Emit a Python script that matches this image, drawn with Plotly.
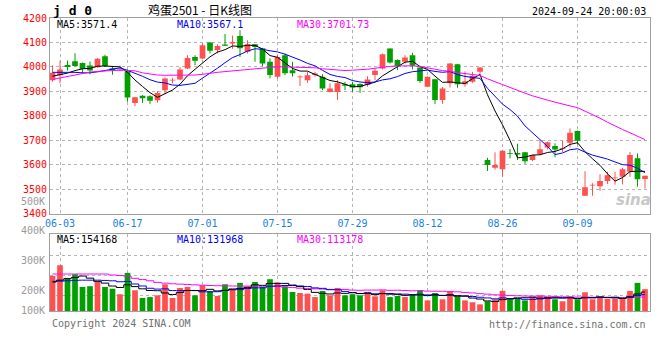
import plotly.graph_objects as go
import pandas as pd

# ---------------- data ----------------
dates = ["2024-05-31",
         "2024-06-03", "2024-06-04", "2024-06-05", "2024-06-06", "2024-06-07",
         "2024-06-11", "2024-06-12", "2024-06-13", "2024-06-14",
         "2024-06-17", "2024-06-18", "2024-06-19", "2024-06-20", "2024-06-21",
         "2024-06-24", "2024-06-25", "2024-06-26", "2024-06-27", "2024-06-28",
         "2024-07-01", "2024-07-02", "2024-07-03", "2024-07-04", "2024-07-05",
         "2024-07-08", "2024-07-09", "2024-07-10", "2024-07-11", "2024-07-12",
         "2024-07-15", "2024-07-16", "2024-07-17", "2024-07-18", "2024-07-19",
         "2024-07-22", "2024-07-23", "2024-07-24", "2024-07-25", "2024-07-26",
         "2024-07-29", "2024-07-30", "2024-07-31", "2024-08-01", "2024-08-02",
         "2024-08-05", "2024-08-06", "2024-08-07", "2024-08-08", "2024-08-09",
         "2024-08-12", "2024-08-13", "2024-08-14", "2024-08-15", "2024-08-16",
         "2024-08-19", "2024-08-20", "2024-08-21", "2024-08-22", "2024-08-23",
         "2024-08-26", "2024-08-27", "2024-08-28", "2024-08-29", "2024-08-30",
         "2024-09-02", "2024-09-03", "2024-09-04", "2024-09-05", "2024-09-06",
         "2024-09-09", "2024-09-10", "2024-09-11", "2024-09-12", "2024-09-13",
         "2024-09-18", "2024-09-19", "2024-09-20", "2024-09-23", "2024-09-24"]

opens = [3946, 3966, 4008, 4023, 4016, 4006, 3999, 4044, 3995, 3986,
         3982, 3853, 3882, 3880, 3864, 3905, 3945, 3949, 3994, 4041,
         4035, 4100, 4069, 4092, 4096, 4126, 4062, 4093, 4076, 4021,
         3960, 4048, 3987, 3958, 3946, 3967, 3960, 3898, 3898, 3929,
         3929, 3930, 3926, 3967, 3994, 4075, 4028, 4021, 4048, 3998,
         3919, 3950, 3865, 3933, 4011, 3929, 3940, 3980, 3620, 3588,
         3582, 3648, 3648, 3651, 3620, 3644, 3671, 3677, 3665, 3690,
         3738, 3474, 3516, 3513, 3534, 3545, 3551, 3572, 3627, 3542]
highs = [4007, 4025, 4026, 4056, 4018, 4022, 4036, 4050, 4000, 4005,
         3990, 3877, 3885, 3884, 3901, 3956, 3955, 4000, 4048, 4048,
         4096, 4102, 4092, 4135, 4128, 4150, 4109, 4094, 4078, 4035,
         4048, 4055, 4021, 3966, 3980, 3980, 3970, 3933, 3946, 3939,
         3939, 3933, 3962, 3994, 4055, 4076, 4031, 4048, 4058, 3999,
         3961, 3952, 3918, 4016, 4013, 3982, 3980, 3999, 3629, 3651,
         3660, 3665, 3686, 3652, 3642, 3701, 3695, 3688, 3698, 3749,
         3740, 3574, 3525, 3561, 3572, 3572, 3588, 3653, 3647, 3556]
lows = [3939, 3933, 3985, 4002, 3974, 3970, 3997, 4000, 3968, 3984,
        3858, 3840, 3853, 3849, 3854, 3889, 3933, 3946, 3991, 4007,
        4031, 4055, 4055, 4085, 4074, 4041, 4055, 4021, 4003, 3953,
        3953, 3967, 3960, 3922, 3935, 3960, 3905, 3898, 3865, 3905,
        3898, 3894, 3919, 3946, 3990, 4014, 3987, 4014, 3990, 3935,
        3918, 3848, 3850, 3916, 3915, 3919, 3935, 3962, 3575, 3580,
        3551, 3626, 3620, 3604, 3615, 3640, 3663, 3631, 3653, 3671,
        3684, 3473, 3474, 3494, 3522, 3519, 3520, 3551, 3511, 3503]
closes = [3976, 3990, 4000, 4004, 3992, 3985, 4034, 4004, 3988, 3990,
          3875, 3876, 3872, 3862, 3894, 3953, 3947, 3990, 4037, 4025,
          4089, 4066, 4086, 4087, 4102, 4076, 4093, 4082, 4014, 3967,
          4041, 3974, 3974, 3960, 3966, 3973, 3912, 3912, 3933, 3923,
          3916, 3917, 3949, 3984, 4052, 4018, 4003, 4039, 4005, 3943,
          3960, 3865, 3912, 4014, 3929, 3942, 3964, 3998, 3599, 3599,
          3658, 3645, 3642, 3615, 3640, 3664, 3692, 3663, 3668, 3731,
          3698, 3508, 3519, 3534, 3558, 3548, 3582, 3640, 3541, 3555]
volumes = [285000, 371000, 268000, 298000, 195000, 201000, 241000, 195000, 181000, 136000,
           309000, 168000, 106000, 113000, 127000, 217000, 106000, 187000, 195000, 127000,
           208000, 163000, 122000, 217000, 181000, 228000, 201000, 235000, 195000, 258000,
           231000, 201000, 154000, 146000, 141000, 113000, 163000, 127000, 187000, 127000,
           136000, 127000, 154000, 119000, 168000, 113000, 122000, 113000, 136000, 168000,
           86000, 146000, 95000, 154000, 119000, 86000, 71000, 54000, 79000, 95000,
           163000, 95000, 100000, 86000, 113000, 127000, 113000, 95000, 79000, 119000,
           95000, 152000, 95000, 113000, 100000, 100000, 100000, 163000, 228000, 177000]

# moving-average values at the left edge (their windows start before the first candle)
ma5_head = [3962, 3968, 3975, 3985]
ma10_head = [3978, 3979, 3980, 3978, 3976, 3976, 3980, 3986, 3990]
ma30_head = [3949, 3955, 3962, 3970, 3975, 3979, 3982, 3984, 3986, 3987,
             3986, 3984, 3976, 3970, 3967, 3966, 3966, 3966, 3966, 3967,
             3970, 3975, 3978, 3981, 3984, 3987, 3989, 3991, 3993]
vol_ma5_head = [235000, 250000, 262000, 272000]
vol_ma10_head = [240000, 242000, 245000, 248000, 250000, 250000, 250000, 248000, 245000]
vol_ma30_head = [300000, 300000, 300000, 300000, 300000, 300000, 300000, 300000, 292000, 288000,
                 282000, 265000, 255000, 245000, 232000, 226000, 221000, 218000, 215000, 212000,
                 209000, 207000, 205000, 204000, 203000, 202000, 202000, 201000, 201000]

tick_dates = ["06-03", "06-17", "07-01", "07-15", "07-29", "08-12", "08-26", "09-09"]
price_ticks = [3400, 3500, 3600, 3700, 3800, 3900, 4000, 4100, 4200]
vol_grid = [124000, 286000, 448000]
vol_labels = ["500K", "400K", "300K", "200K", "100K"]

title_code = "j d 0"
title_name = "鸡蛋2501 - 日K线图"
stamp = "2024-09-24 20:00:03"
ma_texts = ["MA5:3571.4", "MA10:3567.1", "MA30:3701.73"]
vol_ma_texts = ["MA5:154168", "MA10:131968", "MA30:113178"]

# ---------------- helpers ----------------
def moving(values, n, head):
    s = pd.Series(values, dtype=float).rolling(n).mean().tolist()
    return list(head) + s[n - 1:]

x = list(range(len(dates)))
short = [d[5:] for d in dates]
tickvals = [short.index(t) for t in tick_dates]

RED = "#ff5050"
GREEN = "#00a000"
BLACK = "#000000"
BLUE = "#0000ff"
MAG = "#ff00ff"
GRID = "#b4b4b4"
FRAME = "#a0a0a0"
MONO = "DejaVu Sans Mono, Liberation Mono, monospace"
BODY_W = 0.76
MIN_BODY = 3  # a doji still shows as a thin bar

up = [c >= o for o, c in zip(opens, closes)]
colors = [RED if u else GREEN for u in up]

fig = go.Figure()

# wicks
for flag, col in [(True, RED), (False, GREEN)]:
    wx, wy = [], []
    for i in x:
        if up[i] == flag:
            wx += [i, i, None]
            wy += [lows[i], highs[i], None]
    fig.add_trace(go.Scatter(x=wx, y=wy, mode="lines", line=dict(color=col, width=1),
                             xaxis="x", yaxis="y", hoverinfo="skip", showlegend=False))

# bodies
body_base = [min(o, c) for o, c in zip(opens, closes)]
body_h = [max(abs(c - o), MIN_BODY) for o, c in zip(opens, closes)]
fig.add_trace(go.Bar(x=x, y=body_h, base=body_base, width=BODY_W,
                     marker=dict(color=colors, line=dict(width=0)),
                     xaxis="x", yaxis="y", hoverinfo="skip", showlegend=False))

for vals, n, head, col in [(closes, 5, ma5_head, BLACK), (closes, 10, ma10_head, BLUE),
                           (closes, 30, ma30_head, MAG)]:
    fig.add_trace(go.Scatter(x=x, y=moving(vals, n, head), mode="lines",
                             line=dict(color=col, width=1), xaxis="x", yaxis="y",
                             hoverinfo="skip", showlegend=False))

fig.add_trace(go.Bar(x=x, y=volumes, marker=dict(color=colors, line=dict(width=0)),
                     width=BODY_W, xaxis="x2", yaxis="y2", hoverinfo="skip", showlegend=False))

for vals, n, head, col in [(volumes, 30, vol_ma30_head, MAG), (volumes, 10, vol_ma10_head, BLUE),
                           (volumes, 5, vol_ma5_head, BLACK)]:
    fig.add_trace(go.Scatter(x=x, y=moving(vals, n, head), mode="lines",
                             line=dict(color=col, width=1, shape="hvh"), xaxis="x2", yaxis="y2",
                             hoverinfo="skip", showlegend=False))

# layout geometry (pixels)
W, H = 660, 360
ML, MR, MT, MB = 50, 10, 18, 49
PH = H - MT - MB


def py(ypx):
    return (H - MB - ypx) / PH


def px(xpx):
    return (xpx - ML) / (W - ML - MR)


xr = [-0.333, 79.667]
axis_common = dict(showline=True, linecolor=FRAME, linewidth=1, mirror=True,
                   showgrid=True, gridcolor=GRID, griddash="dot", gridwidth=1,
                   zeroline=False, ticks="", fixedrange=True)

fig.update_layout(
    width=W, height=H, margin=dict(l=ML, r=MR, t=MT, b=MB),
    paper_bgcolor="white", plot_bgcolor="white",
    font=dict(family=MONO, size=10, color="#000"),
    xaxis=dict(domain=[0, 1], anchor="y", range=xr, tickvals=tickvals, ticktext=tick_dates,
               tickfont=dict(color="#1a7fe0", size=10, family=MONO), **axis_common),
    yaxis=dict(domain=[py(213.8), 1], anchor="x", range=[3400, 4200], tickvals=price_ticks,
               tickfont=dict(color="#ff0000", size=10, family=MONO), **axis_common),
    xaxis2=dict(domain=[0, 1], anchor="y2", range=xr, tickvals=tickvals, showticklabels=False,
                **axis_common),
    yaxis2=dict(domain=[0, py(234.3)], anchor="x2", range=[0, 622000], tickvals=vol_grid,
                showticklabels=False, **axis_common),
    barmode="overlay",
    hovermode=False,
)

ann = []
ann.append(dict(text="<b>%s</b>" % title_code, x=px(51), y=py(10), xanchor="left",
                yanchor="middle", font=dict(size=13, color="#000", family=MONO)))
ann.append(dict(text=title_name, x=px(200), y=py(9.5), xanchor="center", yanchor="middle",
                font=dict(size=12, color="#000", family="Noto Sans CJK SC")))
ann.append(dict(text=stamp, x=px(648), y=py(11.5), xanchor="right", yanchor="middle",
                font=dict(size=10, color="#000", family=MONO)))
for t, xp, col in zip(ma_texts, [55, 175, 295], [BLACK, BLUE, MAG]):
    ann.append(dict(text=t, x=px(xp), y=py(24.5), xanchor="left", yanchor="middle",
                    font=dict(size=10, color=col, family=MONO)))
for t, xp, col in zip(vol_ma_texts, [55, 175, 295], [BLACK, BLUE, MAG]):
    ann.append(dict(text=t, x=px(xp), y=py(239), xanchor="left", yanchor="middle",
                    font=dict(size=10, color=col, family=MONO)))
for t, yp in zip(vol_labels, [201, 231, 260, 290, 310]):
    ann.append(dict(text=t, x=px(46.5), y=py(yp), xanchor="right", yanchor="middle",
                    font=dict(size=10, color="#999999", family=MONO)))
ann.append(dict(text="Copyright 2024 SINA.COM", x=px(50), y=py(323), xanchor="left",
                yanchor="middle", font=dict(size=10, color="#707070", family=MONO)))
ann.append(dict(text="http://finance.sina.com.cn", x=px(648), y=py(324), xanchor="right",
                yanchor="middle", font=dict(size=10, color="#707070", family=MONO)))
ann.append(dict(text="<b><i>sina</i></b>", x=px(633), y=py(200), xanchor="center",
                yanchor="middle", font=dict(size=15, color="#c8c8c8", family="DejaVu Sans")))
for a in ann:
    a.update(xref="paper", yref="paper", showarrow=False)
fig.update_layout(annotations=ann)

fig.write_html("out.html", config={"displayModeBar": False, "staticPlot": True},
               post_script="document.body.style.margin='0';document.body.style.padding='0';")
